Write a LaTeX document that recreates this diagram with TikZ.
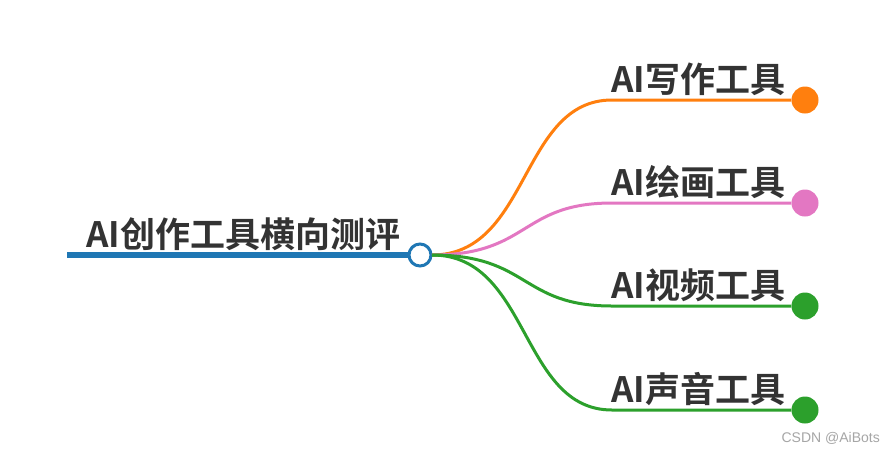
\documentclass[tikz,border=0pt]{standalone}
\usepackage{fontspec}
\setmainfont{Noto Sans CJK SC}[BoldFont={Noto Sans CJK SC Bold}]
\newfontfamily\wmfont{Liberation Sans}
\definecolor{rootblue}{HTML}{1F77B4}
\definecolor{borange}{HTML}{FF7F0E}
\definecolor{bpink}{HTML}{E377C2}
\definecolor{bgreen}{HTML}{2CA02C}
\definecolor{txt}{HTML}{333333}
\begin{document}
\begin{tikzpicture}[x=1pt,y=-1pt,
  lbl/.style={anchor=base west,inner sep=0pt,text=txt,font=\fontsize{35}{35}\selectfont\bfseries},
  branch/.style={line width=3pt},
  leaf/.style={circle,minimum size=27pt,inner sep=0pt}]
\useasboundingbox (0,0) rectangle (886,451);
\fill[white] (0,0) rectangle (886,451);
% root
\coordinate (rs) at (67,255);
\node[circle,draw=rootblue,fill=white,line width=3pt,minimum size=22pt,inner sep=0pt] (hub) at (420,255) {};
\draw[rootblue,line width=6pt] (rs) -- (hub.west);
\node[lbl] (root) at (86,247) {AI创作工具横向测评};
% leaves
\coordinate (s) at (432,255);
\coordinate (e1) at (612,100);
\coordinate (e2) at (612,203);
\coordinate (e3) at (612,306);
\coordinate (e4) at (612,410);
\node[leaf,fill=borange] (l1) at (805,100) {};
\node[leaf,fill=bpink] (l2) at (805,203) {};
\node[leaf,fill=bgreen] (l3) at (805,306) {};
\node[leaf,fill=bgreen] (l4) at (805,410) {};
\draw[branch,borange] (s) .. controls (530,255) and (520,100) .. (e1) -- (l1);
\draw[branch,bpink] (s) .. controls (530,255) and (520,203) .. (e2) -- (l2);
\draw[branch,bgreen] (s) .. controls (530,255) and (520,306) .. (e3) -- (l3);
\draw[branch,bgreen] (s) .. controls (530,255) and (520,410) .. (e4) -- (l4);
\node[lbl] (t1) at (611,92) {AI写作工具};
\node[lbl] (t2) at (611,195) {AI绘画工具};
\node[lbl] (t3) at (611,298) {AI视频工具};
\node[lbl] (t4) at (611,402) {AI声音工具};
% watermark
\node[anchor=base east,inner sep=0pt,text=black!35,font=\wmfont\fontsize{14}{14}\selectfont] (wm) at (880,442) {CSDN @AiBots};
\end{tikzpicture}
\end{document}
